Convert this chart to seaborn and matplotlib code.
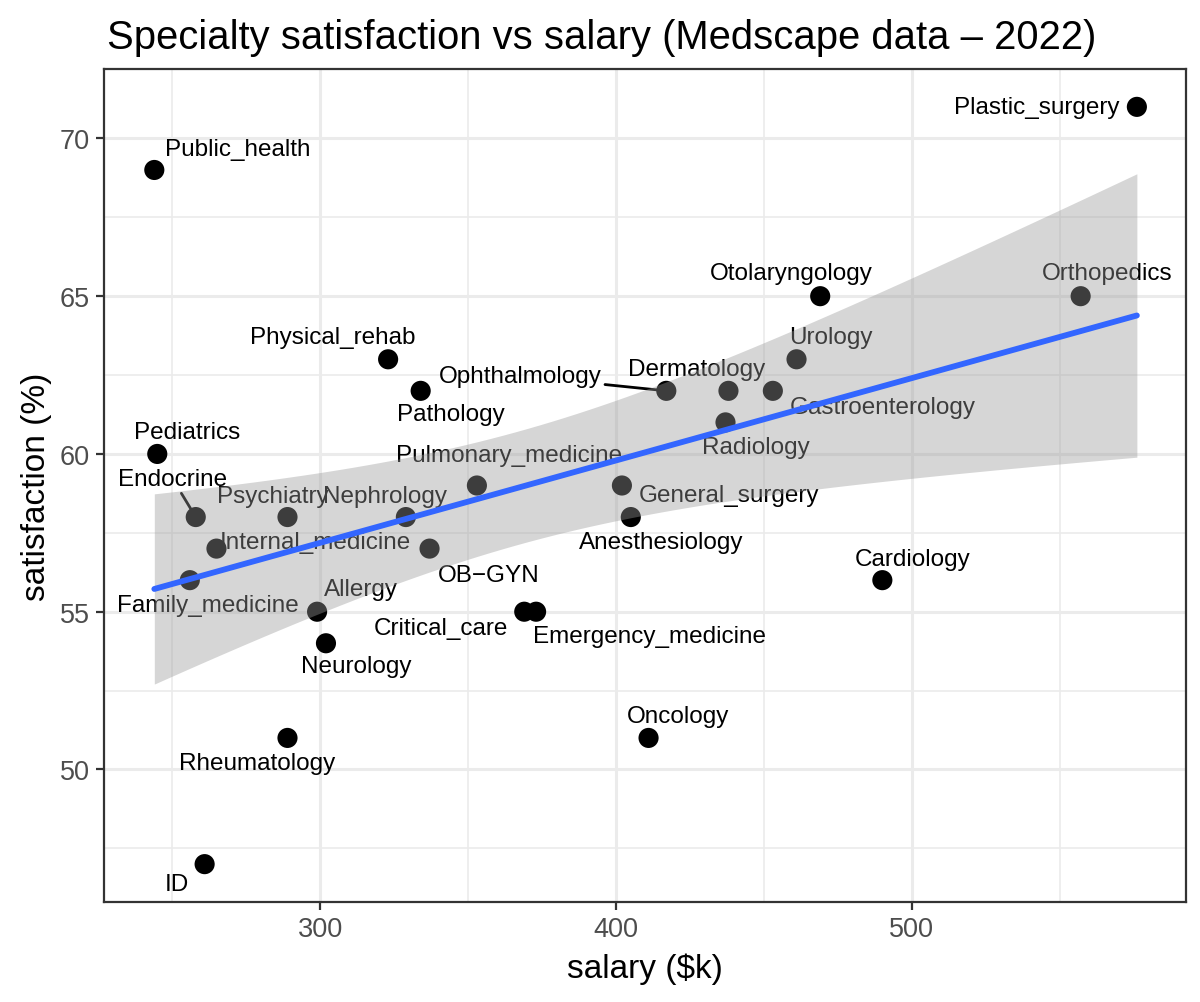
import numpy as np
import pandas as pd
import matplotlib
matplotlib.use("Agg")
import matplotlib.pyplot as plt
import seaborn as sns

# Medscape 2022: mean salary ($k) and % who would choose the same specialty again
specialty = ["Public_health", "Plastic_surgery", "Otolaryngology", "Orthopedics", "Urology",
             "Physical_rehab", "Pathology", "Ophthalmology", "Dermatology", "Gastroenterology",
             "Radiology", "Pediatrics", "Pulmonary_medicine", "General_surgery", "Anesthesiology",
             "Endocrine", "Psychiatry", "Nephrology", "Internal_medicine", "OB\u2212GYN",
             "Family_medicine", "Cardiology", "Allergy", "Critical_care", "Emergency_medicine",
             "Neurology", "Oncology", "Rheumatology", "ID"]
salary = [244, 576, 469, 557, 461,
          323, 334, 417, 438, 453,
          437, 245, 353, 402, 405,
          258, 289, 329, 265, 337,
          256, 490, 299, 369, 373,
          302, 411, 289, 261]
satisfaction = [69, 71, 65, 65, 63,
                63, 62, 62, 62, 62,
                61, 60, 59, 59, 58,
                58, 58, 58, 57, 57,
                56, 56, 55, 55, 55,
                54, 51, 51, 47]

df = pd.DataFrame({"specialty": specialty, "salary": salary, "satisfaction": satisfaction})

# label offsets in pixels (repel-style placement)
offsets = {
    "Public_health": (83, 21), "Plastic_surgery": (-100, 0), "Otolaryngology": (-29, 23),
    "Orthopedics": (27, 23), "Urology": (34, 22), "Physical_rehab": (-55, 22),
    "Pathology": (30, -23), "Ophthalmology": (-146, 15), "Dermatology": (-32, 22),
    "Gastroenterology": (110, -16), "Radiology": (30, -25), "Pediatrics": (30, 22),
    "Pulmonary_medicine": (32, 30), "General_surgery": (107, -10), "Anesthesiology": (30, -25),
    "Endocrine": (-23, 38), "Psychiatry": (-15, 21), "Nephrology": (-21, 21),
    "Internal_medicine": (99, 7), "OB\u2212GYN": (59, -26), "Family_medicine": (18, -25),
    "Cardiology": (30, 21), "Allergy": (44, 23), "Critical_care": (-83, -16),
    "Emergency_medicine": (113, -24), "Neurology": (30, -23), "Oncology": (30, 22),
    "Rheumatology": (-30, -25), "ID": (-28, -20),
}
with_segment = {"Ophthalmology", "Endocrine"}

sns.set_theme(style="white")
plt.rcParams["font.family"] = ["Liberation Sans", "DejaVu Sans"]

fig, ax = plt.subplots(figsize=(12, 10.03), dpi=100)
fig.subplots_adjust(left=104 / 1200, right=1186 / 1200, top=1 - 70 / 1003, bottom=1 - 903 / 1003)

sns.scatterplot(data=df, x="salary", y="satisfaction", color="black", s=210,
                edgecolor="none", ax=ax, zorder=2)

for _, r in df.iterrows():
    dx, dy = offsets[r["specialty"]]
    arrow = None
    if r["specialty"] in with_segment:
        arrow = dict(arrowstyle="-", color="black", lw=2, shrinkA=0, shrinkB=7)
    ax.annotate(r["specialty"], (r["salary"], r["satisfaction"]), xytext=(dx, dy),
                textcoords="offset pixels", ha="center", va="center", fontsize=17.5,
                color="black", arrowprops=arrow, zorder=3)

# linear fit with 95% confidence band (like geom_smooth(method = "lm"))
x = df["salary"].to_numpy(float)
y = df["satisfaction"].to_numpy(float)
b1, b0 = np.polyfit(x, y, 1)
n = len(x)
resid = y - (b0 + b1 * x)
s = np.sqrt(np.sum(resid ** 2) / (n - 2))
xg = np.linspace(x.min(), x.max(), 80)
se = s * np.sqrt(1 / n + (xg - x.mean()) ** 2 / np.sum((x - x.mean()) ** 2))
t975 = 2.052
yg = b0 + b1 * xg
ax.fill_between(xg, yg - t975 * se, yg + t975 * se, color="#999999", alpha=0.4,
                linewidth=0, zorder=4)
sns.regplot(data=df, x="salary", y="satisfaction", scatter=False, ci=None, ax=ax,
            line_kws=dict(color="#3366FF", lw=4.2, zorder=5))

ax.set_xlim(227.0, 592.6)
ax.set_ylim(45.8, 72.2)
ax.set_xticks([300, 400, 500])
ax.set_yticks([50, 55, 60, 65, 70])
ax.set_xticks([250, 350, 450, 550], minor=True)
ax.set_yticks([47.5, 52.5, 57.5, 62.5, 67.5], minor=True)
ax.grid(which="major", color="#EBEBEB", lw=2.2)
ax.grid(which="minor", color="#EBEBEB", lw=1.2)
ax.set_axisbelow(True)
for sp in ax.spines.values():
    sp.set_color("#333333")
    sp.set_linewidth(1.6)
ax.tick_params(which="major", direction="out", length=6, width=1.6, color="#333333",
               labelsize=19.5, labelcolor="#4D4D4D", pad=4, bottom=True, left=True)
ax.tick_params(which="minor", length=0)

ax.set_xlabel("salary ($k)", fontsize=24, color="black", labelpad=8)
ax.set_ylabel("satisfaction (%)", fontsize=24, color="black", labelpad=6)
ax.set_title("Specialty satisfaction vs salary (Medscape data \u2013 2022)", fontsize=28.8,
             loc="left", x=0.003, pad=15, color="black")

fig.savefig("out.png", dpi=100, facecolor="white")
